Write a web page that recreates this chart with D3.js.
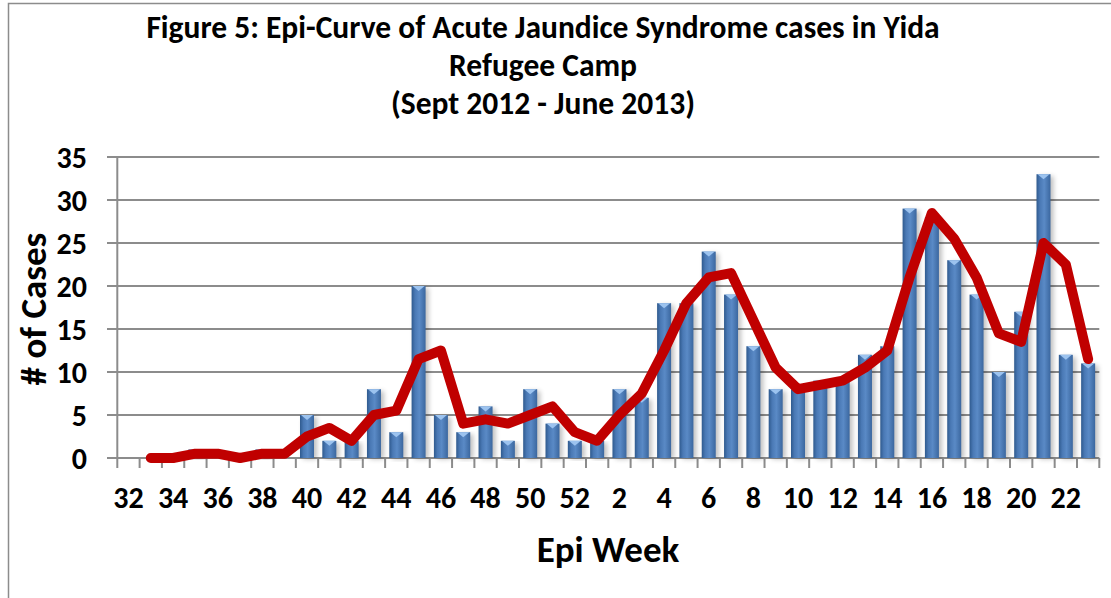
<!DOCTYPE html>
<html>
<head>
<meta charset="utf-8">
<script src="https://cdn.jsdelivr.net/npm/d3@7"></script>
<style>
  body { margin: 0; background: #fff; }
  svg { display: block; font-family: Carlito, Calibri, Lato, "Open Sans", sans-serif; font-weight: bold; }
</style>
</head>
<body>
<div id="chart"></div>
<script>
// epi weeks, Sept 2012 - June 2013
const weeks = [32, 33, 34, 35, 36, 37, 38, 39, 40, 41, 42, 43, 44, 45, 46, 47, 48, 49, 50, 51, 52,
  1, 2, 3, 4, 5, 6, 7, 8, 9, 10, 11, 12, 13, 14, 15, 16, 17, 18, 19, 20, 21, 22, 23];
const cases = [0, 0, 0, 1, 0, 0, 1, 0, 5, 2, 2, 8, 3, 20, 5, 3, 6, 2, 8, 4, 2,
  2, 8, 7, 18, 18, 24, 19, 13, 8, 8, 9, 9, 12, 13, 29, 28, 23, 19, 10, 17, 33, 12, 11];
// trend line (starts at week 33)
const trendWeeks = weeks.slice(1);
const trend = [0, 0, 0.5, 0.5, 0, 0.5, 0.5, 2.5, 3.5, 2, 5, 5.5, 11.5, 12.5, 4, 4.5, 4, 5, 6, 3,
  2, 5, 7.5, 12.5, 18, 21, 21.5, 16, 10.5, 8, 8.5, 9, 10.5, 12.5, 21, 28.5, 25.5, 21, 14.5, 13.5, 25, 22.5, 11.5];
const yTicks = [0, 5, 10, 15, 20, 25, 30, 35];
const xLabels = [32, 34, 36, 38, 40, 42, 44, 46, 48, 50, 52, 2, 4, 6, 8, 10, 12, 14, 16, 18, 20, 22];
const titleLines = ['Figure 5: Epi-Curve of Acute Jaundice Syndrome cases in Yida', 'Refugee Camp', '(Sept 2012 - June 2013)'];

const width = 1111, height = 598;

const svg = d3.select('#chart').append('svg')
    .attr('width', width)
    .attr('height', height);

const defs = svg.append('defs');
const grad = defs.append('linearGradient').attr('id', 'barGrad')
    .attr('x1', 0).attr('x2', 1).attr('y1', 0).attr('y2', 0);
grad.append('stop').attr('offset', '0%').attr('stop-color', '#2f5a8e');
grad.append('stop').attr('offset', '25%').attr('stop-color', '#4a79b5');
grad.append('stop').attr('offset', '55%').attr('stop-color', '#5a8ac6');
grad.append('stop').attr('offset', '100%').attr('stop-color', '#3b679f');
const shadow = defs.append('filter').attr('id', 'shadow')
    .attr('x', '-50%').attr('y', '-10%').attr('width', '200%').attr('height', '120%');
shadow.append('feGaussianBlur').attr('stdDeviation', 2.5);

// outer frame
svg.append('rect')
    .attr('x', 8.5).attr('y', 3.5)
    .attr('width', width + 10).attr('height', height + 10)
    .attr('fill', 'none').attr('stroke', '#8c8c8c').attr('stroke-width', 1.5);

const x = d3.scaleBand()
    .domain(weeks)
    .range([117.3, 1099.3]);
const y = d3.scaleLinear()
    .domain([0, 35])
    .range([458, 157]);

// gridlines
svg.append('g')
    .selectAll('line')
    .data(yTicks)
    .enter()
    .append('line')
      .attr('x1', 107).attr('x2', 1099.3)
      .attr('y1', d => y(d)).attr('y2', d => y(d))
      .attr('stroke', '#8c8c8c').attr('stroke-width', 2);

// y axis line
svg.append('line')
    .attr('x1', 117.3).attr('x2', 117.3)
    .attr('y1', y(35)).attr('y2', y(0))
    .attr('stroke', '#8c8c8c').attr('stroke-width', 2);

// x tick marks at category edges
svg.append('g')
    .selectAll('line')
    .data(weeks.concat(['end']))
    .enter()
    .append('line')
      .attr('x1', (d, i) => x.range()[0] + i * x.step())
      .attr('x2', (d, i) => x.range()[0] + i * x.step())
      .attr('y1', y(0)).attr('y2', y(0) + 10)
      .attr('stroke', '#8c8c8c').attr('stroke-width', 2);

// y labels
svg.append('g')
    .selectAll('text')
    .data(yTicks)
    .enter()
    .append('text')
      .attr('x', 87)
      .attr('y', d => y(d) + 10.5)
      .attr('text-anchor', 'end')
      .attr('font-size', 30)
      .text(d => d);

// x labels
svg.append('g')
    .selectAll('text')
    .data(xLabels)
    .enter()
    .append('text')
      .attr('x', d => x(d) + x.bandwidth() / 2)
      .attr('y', 508)
      .attr('text-anchor', 'middle')
      .attr('font-size', 30)
      .text(d => d);

// bars
const barW = 14;
const bars = svg.append('g')
    .selectAll('g')
    .data(weeks.map((w, i) => ({ week: w, value: cases[i] })).filter(d => d.value > 0))
    .enter()
    .append('g')
      .attr('transform', d => `translate(${x(d.week) + x.bandwidth() / 2 - barW / 2},0)`);

bars.append('rect')
    .attr('x', 3).attr('y', d => y(d.value) + 2)
    .attr('width', barW).attr('height', d => y(0) - y(d.value) - 1)
    .attr('fill', '#000').attr('opacity', 0.25)
    .attr('filter', 'url(#shadow)');
bars.append('rect')
    .attr('y', d => y(d.value))
    .attr('width', barW).attr('height', d => y(0) - y(d.value))
    .attr('fill', 'url(#barGrad)');
bars.append('path')
    .attr('d', d => `M1,${y(d.value)}L${barW - 1},${y(d.value)}L${barW / 2},${y(d.value) + 5}Z`)
    .attr('fill', '#9cc3ef');

// trend line
const line = d3.line()
    .x((d, i) => x(trendWeeks[i]) + x.bandwidth() / 2)
    .y(d => y(d));
svg.append('path')
    .datum(trend)
    .attr('d', line)
    .attr('fill', 'none')
    .attr('stroke', '#c00000')
    .attr('stroke-width', 10)
    .attr('stroke-linejoin', 'round')
    .attr('stroke-linecap', 'round');

// title
svg.append('g')
    .selectAll('text')
    .data(titleLines)
    .enter()
    .append('text')
      .attr('x', 543)
      .attr('y', (d, i) => 38 + i * 38)
      .attr('text-anchor', 'middle')
      .attr('font-size', 31.5)
      .text(d => d);

// axis titles
svg.append('text')
    .attr('x', 608).attr('y', 562)
    .attr('text-anchor', 'middle')
    .attr('font-size', 37)
    .text('Epi Week');
svg.append('text')
    .attr('transform', 'translate(46,309) rotate(-90)')
    .attr('text-anchor', 'middle')
    .attr('font-size', 37)
    .text('# of Cases');
</script>
</body>
</html>
